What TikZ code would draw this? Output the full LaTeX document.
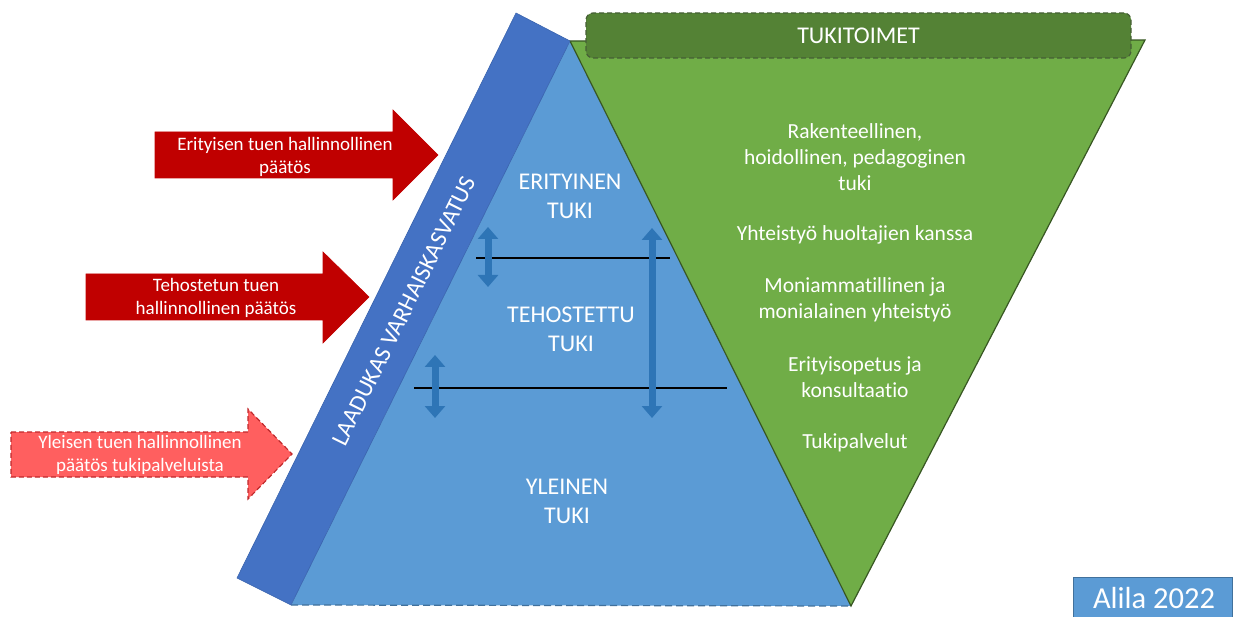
\documentclass[tikz,border=0pt]{standalone}
\usepackage{fontspec}
\setmainfont{Carlito}[Ligatures=NoCommon]
\usetikzlibrary{arrows.meta}
\definecolor{pyrblue}{HTML}{5B9BD5}
\definecolor{pyredge}{HTML}{41719C}
\definecolor{bandblue}{HTML}{4472C4}
\definecolor{bandedge}{HTML}{3A64AE}
\definecolor{grn}{HTML}{70AD47}
\definecolor{grnedge}{HTML}{385723}
\definecolor{darkgrn}{HTML}{548235}
\definecolor{darkred}{HTML}{C00000}
\definecolor{lightred}{HTML}{FF5F5F}
\definecolor{lightrededge}{HTML}{C0282B}
\definecolor{dblblue}{HTML}{2E75B6}
\tikzset{
  redarrow/.style={fill=darkred, draw=darkred, line width=0.6pt},
  dashredarrow/.style={fill=lightred, draw=lightrededge, line width=1.2pt, dash pattern=on 5pt off 3pt},
  arrowtext/.style={text=white, align=center, font=\fontsize{19}{23}\selectfont},
  leveltext/.style={text=white, align=center, font=\fontsize{24}{29}\selectfont},
  greentext/.style={text=white, align=center, font=\fontsize{21.5}{25.7}\selectfont},
  dblarrow/.style={draw=dblblue, line width=7pt,
    arrows={Triangle[width=20pt,length=12pt]-Triangle[width=20pt,length=12pt]}},
  levelline/.style={draw=black, line width=1.8pt},
}
\begin{document}
\begin{tikzpicture}[x=1pt,y=-1pt]
\useasboundingbox (0,0) rectangle (1234,617);

% key points
\coordinate (apex) at (570,41);
\coordinate (bl) at (291,605);
\coordinate (br) at (851,606);
\coordinate (gtr) at (1145,40);
\coordinate (bandtl) at (516,13);
\coordinate (bandbl) at (237,578);

% pyramid
\fill[pyrblue] (apex) -- (bl) -- (br) -- cycle;
\draw[pyredge, line width=1.2pt, dash pattern=on 7pt off 4pt] (bl) -- (br);

% green inverted triangle
\draw[fill=grn, draw=grnedge, line width=1.2pt, line join=miter] (apex) -- (gtr) -- (br) -- cycle;

% band
\draw[fill=bandblue, draw=bandedge, line width=0.6pt] (bandtl) -- (apex) -- (bl) -- (bandbl) -- cycle;
\node[text=white, rotate=63.7, font=\fontsize{24}{28}\selectfont] (bandlabel) at (404,311) {LAADUKAS VARHAISKASVATUS};

% TUKITOIMET box
\node[draw=grnedge!80!gray, fill=darkgrn, rounded corners=7pt, line width=1.2pt,
      dash pattern=on 5pt off 3pt, minimum width=545pt, minimum height=45pt,
      text=white, font=\fontsize{24}{28}\selectfont] (tukitoimet) at (858.5,35.5) {TUKITOIMET};

% level lines
\coordinate (l1a) at (476,258); \coordinate (l1b) at (670,258);
\coordinate (l2a) at (414,388); \coordinate (l2b) at (727,388);
\draw[levelline] (l1a) -- (l1b);
\draw[levelline] (l2a) -- (l2b);

% double arrows
\coordinate (d1a) at (488,227); \coordinate (d1b) at (488,287);
\coordinate (d2a) at (435,355); \coordinate (d2b) at (435,418);
\coordinate (d3a) at (652,228); \coordinate (d3b) at (652,418);
\draw[dblarrow] (d1a) -- (d1b);
\draw[dblarrow] (d2a) -- (d2b);
\draw[dblarrow] (d3a) -- (d3b);

% level texts
\node[leveltext] (erit) at (570,196) {ERITYINEN\\TUKI};
\node[leveltext] (tehos) at (571,329) {TEHOSTETTU\\TUKI};
\node[leveltext] (yleinen) at (567,501) {YLEINEN\\TUKI};

% green texts
\node[greentext] (g1) at (855,157) {Rakenteellinen,\\hoidollinen, pedagoginen\\tuki};
\node[greentext] (g2) at (855,235) {Yhteistyö huoltajien kanssa};
\node[greentext] (g3) at (855,299.5) {Moniammatillinen ja\\monialainen yhteistyö};
\node[greentext] (g4) at (855,377) {Erityisopetus ja\\konsultaatio};
\node[greentext] (g5) at (855,443) {Tukipalvelut};

% red arrows
\draw[redarrow] (155,132) -- (393,132) -- (393,110) -- (438,155) -- (393,200) -- (393,178) -- (155,178) -- cycle;
\node[arrowtext] (a1) at (285,156.5) {Erityisen tuen hallinnollinen\\päätös};

\draw[redarrow] (86,274) -- (323,274) -- (323,252) -- (369,297) -- (323,343) -- (323,320) -- (86,320) -- cycle;
\node[arrowtext] (a2) at (216,298) {Tehostetun tuen\\hallinnollinen päätös};

\draw[dashredarrow] (11,432) -- (248,432) -- (248,409) -- (292,454) -- (248,499) -- (248,477) -- (11,477) -- cycle;
\node[arrowtext] (a3) at (140,455) {Yleisen tuen hallinnollinen\\päätös tukipalveluista};

% Alila box
\node[draw=pyredge, fill=pyrblue, line width=0.8pt, minimum width=159pt, minimum height=42pt,
      anchor=north west, inner sep=0pt] (alilabox) at (1073,577) {};
\node[text=white, font=\fontsize{30.5}{34}\selectfont] (alila) at (1154,598) {Alila 2022};
\end{tikzpicture}
\end{document}
